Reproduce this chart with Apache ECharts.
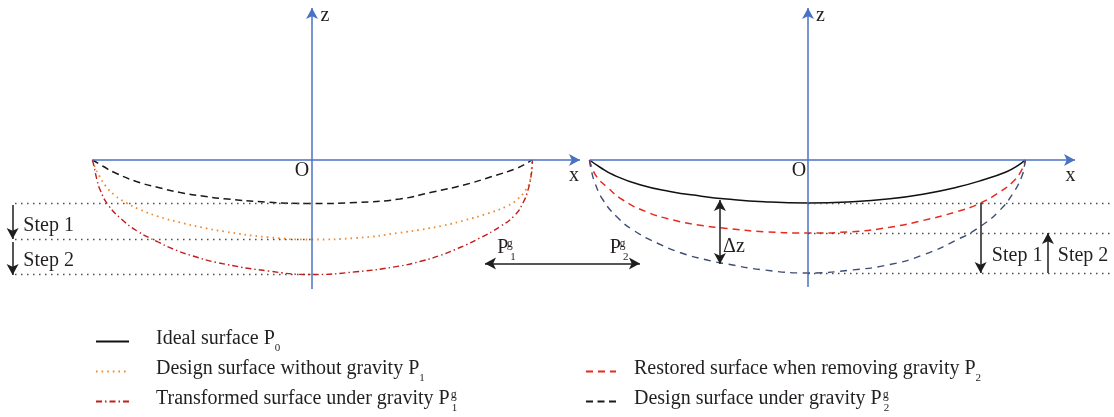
<!DOCTYPE html>
<html><head><meta charset="utf-8">
<script src="https://cdn.jsdelivr.net/npm/echarts@6/dist/echarts.min.js"></script>
<style>html,body{margin:0;padding:0;background:#fff}#c{width:1114px;height:417px}</style>
</head><body><div id="c"></div>
<script>
// ---------- data: x = normalised aperture (rim at ±1), z = sag (units) ----------
const leftDesignUnderGravity = [[-1,0],[-0.95,-0.065],[-0.9,-0.125],[-0.8,-0.215],[-0.7,-0.275],[-0.6,-0.325],[-0.5,-0.36],[-0.4,-0.387],[-0.2,-0.422],[0,-0.435],[0.2,-0.425],[0.4,-0.39],[0.55,-0.32],[0.7,-0.245],[0.82,-0.165],[0.93,-0.085],[0.98,-0.03],[1,0]];
const designWithoutGravity = [[-1,0],[-0.99,-0.065],[-0.97,-0.155],[-0.94,-0.26],[-0.9,-0.35],[-0.845,-0.43],[-0.79,-0.49],[-0.7,-0.565],[-0.6,-0.625],[-0.5,-0.675],[-0.4,-0.715],[-0.2,-0.772],[0,-0.795],[0.2,-0.78],[0.4,-0.728],[0.5,-0.695],[0.6,-0.655],[0.7,-0.6],[0.8,-0.535],[0.89,-0.46],[0.935,-0.395],[0.97,-0.31],[0.99,-0.23],[1,-0.1],[1.003,0]];
const transformedUnderGravity = [[-1,0],[-0.993,-0.065],[-0.98,-0.195],[-0.966,-0.295],[-0.93,-0.445],[-0.866,-0.595],[-0.793,-0.715],[-0.706,-0.815],[-0.633,-0.89],[-0.542,-0.96],[-0.433,-1.025],[-0.2,-1.11],[0,-1.145],[0.2,-1.118],[0.4,-1.06],[0.5,-1.01],[0.583,-0.955],[0.674,-0.875],[0.765,-0.78],[0.856,-0.667],[0.925,-0.55],[0.961,-0.43],[0.984,-0.3],[0.998,-0.16],[1.003,-0.065],[1.004,0]];
const idealSurface = [[-1,0],[-0.95,-0.075],[-0.892,-0.148],[-0.769,-0.248],[-0.632,-0.315],[-0.494,-0.36],[-0.373,-0.39],[-0.2,-0.418],[0,-0.43],[0.2,-0.418],[0.375,-0.388],[0.526,-0.342],[0.68,-0.273],[0.8,-0.2],[0.909,-0.117],[0.96,-0.057],[0.993,0]];
const restoredSurface = [[-1,0],[-0.99,-0.07],[-0.966,-0.17],[-0.92,-0.27],[-0.847,-0.4],[-0.737,-0.52],[-0.618,-0.6],[-0.494,-0.652],[-0.371,-0.685],[-0.2,-0.717],[0,-0.73],[0.2,-0.717],[0.375,-0.672],[0.526,-0.605],[0.68,-0.517],[0.787,-0.433],[0.879,-0.317],[0.938,-0.217],[0.978,-0.1],[0.993,0]];
const rightDesignUnderGravity = [[-1,0],[-0.995,-0.07],[-0.975,-0.23],[-0.938,-0.4],[-0.874,-0.57],[-0.801,-0.7],[-0.691,-0.83],[-0.586,-0.925],[-0.462,-1.0],[-0.371,-1.04],[-0.2,-1.1],[0,-1.13],[0.2,-1.1],[0.375,-1.045],[0.526,-0.95],[0.68,-0.8],[0.787,-0.667],[0.879,-0.5],[0.938,-0.333],[0.978,-0.167],[0.993,-0.033],[0.995,0]];

const stepLevelsLeft = [-0.435, -0.795, -1.145];
const stepLevelsRight = [-0.43, -0.73, -1.13];

const seriesNames = {
  p0: 'Ideal surface P0',
  p1: 'Design surface without gravity P1',
  p1g: 'Transformed surface under gravity P1g',
  p2: 'Restored surface when removing gravity P2',
  p2g: 'Design surface under gravity P2g'
};
const legendLabels = {
  'Ideal surface P0': '{s|\u200b}{t|Ideal surface P}{sub|0}',
  'Design surface without gravity P1': '{s|\u200b}{t|Design surface without gravity P}{sub|1}',
  'Transformed surface under gravity P1g': '{s|\u200b}{t|Transformed surface under gravity P}{sup|g}{sub|1}',
  'Restored surface when removing gravity P2': '{s|\u200b}{t|Restored surface when removing gravity P}{sub|2}',
  'Design surface under gravity P2g': '{s|\u200b}{t|Design surface under gravity P}{sup|g}{sub|2}'
};
const legendLeft = [seriesNames.p0, seriesNames.p1, seriesNames.p1g];
const legendRight = [seriesNames.p2, seriesNames.p2g];

// ---------- styling / layout ----------
const FONT = 'Liberation Serif';
const TXT = '#231f20';
const AXIS = '#4a72c4';
const rich = {
  s: {fontSize: 20, lineHeight: 25, fontFamily: FONT},
  t: {fontSize: 20, lineHeight: 22, verticalAlign: 'top', fontFamily: FONT, color: TXT},
  sub: {fontSize: 11, lineHeight: 10, verticalAlign: 'bottom', fontFamily: FONT, color: TXT},
  sup: {fontSize: 12, lineHeight: 8, verticalAlign: 'top', fontFamily: FONT, color: TXT, width: 1, padding: [0, 0, 0, 1]}
};

function curve(name, gi, data, color, width, type) {
  return {type: 'line', name, xAxisIndex: gi, yAxisIndex: gi, data, symbol: 'none', smooth: 0.5,
    color, lineStyle: {color, width, type}, silent: true, z: 3, clip: false};
}
function marks(gi, lines, style, symbols, size) {
  return {type: 'line', xAxisIndex: gi, yAxisIndex: gi, data: [[0, 0]], symbol: 'none',
    lineStyle: {opacity: 0}, silent: true, z: 2,
    markLine: {silent: true, animation: false, symbol: symbols, symbolSize: size, label: {show: false},
      emphasis: {disabled: true}, lineStyle: style,
      data: lines.map(l => [{coord: l[0]}, {coord: l[1]}])}};
}
function texts(gi, items) {
  return {type: 'scatter', xAxisIndex: gi, yAxisIndex: gi, symbolSize: 0, silent: true, z: 5,
    itemStyle: {opacity: 0},
    data: items.map(it => ({value: it[1], label: {formatter: it[0]}})),
    label: {show: true, position: [0, 0], align: 'center', verticalAlign: 'middle',
      fontFamily: FONT, fontSize: 20, color: TXT, textBorderWidth: 0, opacity: 1, rich}};
}

const dotted = {color: '#4d4d4d', width: 1.4, type: [1.5, 4.5]};
const arrowStyle = {color: '#1e1e1e', width: 1.5, type: 'solid'};
const axisStyle = {color: AXIS, width: 1.5, type: 'solid'};

const legendCommon = {orient: 'vertical', padding: 0, itemHeight: 14, itemGap: 5, selectedMode: false,
  itemStyle: {opacity: 0}, formatter: n => legendLabels[n]};

const option = {
  animation: false,
  backgroundColor: '#fff',
  textStyle: {fontFamily: FONT},
  grid: [
    {left: 4.7, top: 0, width: 658.5, height: 417},
    {left: 502.1, top: 0, width: 611.8, height: 417}
  ],
  xAxis: [
    {gridIndex: 0, type: 'value', min: -1.4, max: 1.6, show: false},
    {gridIndex: 1, type: 'value', min: -1.4, max: 1.4, show: false}
  ],
  yAxis: [
    {gridIndex: 0, type: 'value', min: -2.57, max: 1.6, show: false},
    {gridIndex: 1, type: 'value', min: -2.57, max: 1.6, show: false}
  ],
  legend: [
    Object.assign({data: legendLeft, left: 95, top: 329, itemWidth: 33,
      textStyle: {padding: [0, 0, 0, 22], rich}}, legendCommon),
    Object.assign({data: legendRight, left: 585, top: 359, itemWidth: 30,
      textStyle: {padding: [0, 0, 0, 13], rich}}, legendCommon)
  ],
  series: [
    curve(seriesNames.p2g, 0, leftDesignUnderGravity, '#1a1a1a', 1.5, [7, 4.5]),
    curve(seriesNames.p1, 0, designWithoutGravity, '#f0892f', 1.8, [1.6, 4]),
    curve(seriesNames.p1g, 0, transformedUnderGravity, '#c01e1b', 1.4, [6, 3, 1.5, 3]),
    curve(seriesNames.p0, 1, idealSurface, '#111', 1.5, 'solid'),
    curve(seriesNames.p2, 1, restoredSurface, '#e62b1e', 1.5, [7, 5]),
    curve(seriesNames.p2g, 1, rightDesignUnderGravity, '#3f4d74', 1.4, [7, 5.5]),
    // coordinate axes
    marks(0, [[[-1, 0], [1.221, 0]], [[0, -1.29], [0, 1.52]]], axisStyle, ['none', 'arrow'], [9, 11]),
    marks(1, [[[-0.998, 0], [1.222, 0]], [[0, -1.27], [0, 1.52]]], axisStyle, ['none', 'arrow'], [9, 11]),
    // dotted level lines
    marks(0, stepLevelsLeft.map(z => [[-1.353, z], [0, z]]), dotted, ['none', 'none'], 0),
    marks(1, stepLevelsRight.map(z => [[0, z], [1.4, z]]), dotted, ['none', 'none'], 0),
    // single arrows
    marks(0, [[[-1.364, -0.45], [-1.364, -0.79]], [[-1.364, -0.82], [-1.364, -1.15]]], arrowStyle, ['none', 'arrow'], [9, 11]),
    marks(1, [[[0.79, -0.43], [0.79, -1.13]], [[1.098, -1.13], [1.098, -0.73]]], arrowStyle, ['none', 'arrow'], [9, 11]),
    // double arrows
    marks(0, [[[0.788, -1.035], [1.494, -1.035]]], arrowStyle, ['arrow', 'arrow'], [9, 11]),
    marks(1, [[[-0.403, -0.4], [-0.403, -1.04]]], arrowStyle, ['arrow', 'arrow'], [9, 11]),
    // text annotations
    texts(0, [['z', [0.059, 1.44]], ['O', [-0.046, -0.11]], ['x', [1.194, -0.16]],
      ['Step 1', [-1.2, -0.66]], ['Step 2', [-1.2, -1.01]],
      ['{s|\u200b}{t|P}{sup|g}{sub|1}', [0.886, -0.9]], ['{s|\u200b}{t|P}{sup|g}{sub|2}', [1.399, -0.9]]]),
    texts(1, [['z', [0.057, 1.44]], ['O', [-0.041, -0.11]], ['x', [1.201, -0.16]],
      ['\u0394z', [-0.339, -0.87]], ['Step 1', [0.957, -0.96]], ['Step 2', [1.259, -0.96]]])
  ]
};
echarts.init(document.getElementById('c')).setOption(option);
</script></body></html>
